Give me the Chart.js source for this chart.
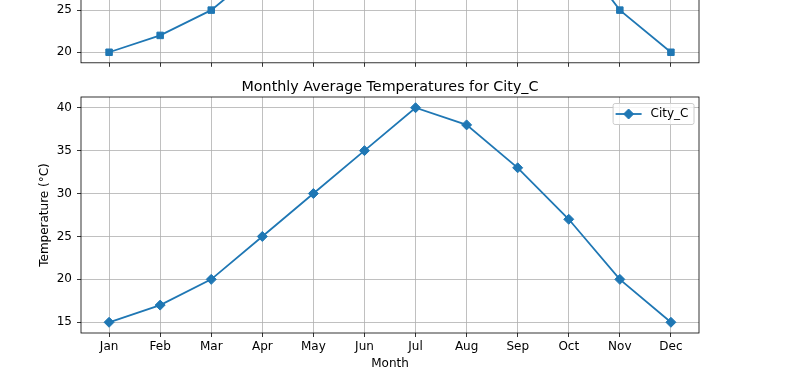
<!DOCTYPE html>
<html><head><meta charset="utf-8">
<script src="https://cdn.jsdelivr.net/npm/chart.js@4"></script>
<style>
html,body{margin:0;padding:0;background:#fff;overflow:hidden;width:800px;height:371px;}
#wrapB{position:absolute;left:0;top:-195px;width:800px;height:270px;}
#wrapC{position:absolute;left:0;top:0;width:800px;height:371px;}
canvas{display:block;}
</style></head><body>
<div id="wrapB"><canvas id="cB" width="800" height="270"></canvas></div>
<div id="wrapC"><canvas id="cC" width="800" height="371"></canvas></div>
<script>
const months = ['Jan','Feb','Mar','Apr','May','Jun','Jul','Aug','Sep','Oct','Nov','Dec'];
const cityB = [20,22,25,30,35,40,45,43,38,33,25,20];
const cityC = [15,17,20,25,30,35,40,38,33,27,20,15];
const yTicksB = [20,25,30,35,40,45];
const yTicksC = [15,20,25,30,35,40];
const labelB = 'City_B';
const labelC = 'City_C';
const titleB = 'Monthly Average Temperatures for City_B';
const titleC = 'Monthly Average Temperatures for City_C';
const xTitle = 'Month';
const yTitle = 'Temperature (°C)';

const FONT = "'DejaVu Sans', sans-serif";
const TICK_PX = 12, TITLE_PX = 14.3;
const BLUE = '#1f77b4';

function pad5(vals){const mn=Math.min(...vals),mx=Math.max(...vals),m=(mx-mn)*0.05;return [mn-m,mx+m];}

function marker(ctx, style, x, y, r){
  ctx.beginPath();
  if(style==='rectRot'){ctx.moveTo(x-r,y);ctx.lineTo(x,y-r);ctx.lineTo(x+r,y);ctx.lineTo(x,y+r);ctx.closePath();}
  else {const s=Math.SQRT1_2*r;ctx.rect(x-s,y-s,2*s,2*s);}
  ctx.fillStyle=BLUE;ctx.strokeStyle=BLUE;ctx.lineWidth=1;ctx.fill();ctx.stroke();
}

const framePlugin = {
  id:'frame',
  afterDatasetsDraw(chart, args, opts){
    const {ctx, chartArea:a} = chart;
    ctx.save();
    ctx.strokeStyle='#000';ctx.lineWidth=0.8;
    ctx.strokeRect(a.left,a.top,a.right-a.left,a.bottom-a.top);
    ctx.fillStyle='#000';ctx.font=TITLE_PX+'px '+FONT;ctx.textAlign='center';ctx.textBaseline='alphabetic';
    ctx.fillText(opts.title,(a.left+a.right)/2,a.top-6);
    // legend
    ctx.font=TICK_PX+'px '+FONT;
    const w=ctx.measureText(opts.label).width;
    const bw=38+w+5, bh=21;
    const bx=a.right-5.5-bw, by=a.top+6;
    ctx.beginPath();
    if(ctx.roundRect) ctx.roundRect(bx+0.5,by+0.5,bw,bh,2); else ctx.rect(bx+0.5,by+0.5,bw,bh);
    ctx.fillStyle='rgba(255,255,255,0.8)';ctx.fill();
    ctx.strokeStyle='#cccccc';ctx.lineWidth=1;ctx.stroke();
    const cy=by+bh/2+0.5;
    ctx.beginPath();ctx.moveTo(bx+3,cy);ctx.lineTo(bx+29,cy);ctx.strokeStyle=BLUE;ctx.lineWidth=1.8;ctx.stroke();
    marker(ctx,opts.style,bx+16,cy,opts.radius);
    ctx.fillStyle='#000';ctx.textAlign='left';ctx.textBaseline='middle';
    ctx.fillText(opts.label,bx+38,cy);
    ctx.restore();
  }
};

function build(id, values, label, style, radius, yTicks, title, top, bottom, H, showX){
  const [ymin,ymax]=pad5(values);
  const font={family:FONT,size:TICK_PX};
  return new Chart(document.getElementById(id),{
    type:'line',
    data:{datasets:[{label, data:values.map((v,i)=>({x:i,y:v})),
      borderColor:BLUE,backgroundColor:BLUE,borderWidth:1.8,
      pointStyle:style,pointRadius:radius,pointHoverRadius:radius,pointBorderWidth:1,
      pointBorderColor:BLUE,pointBackgroundColor:BLUE,tension:0,fill:false,clip:false}]},
    options:{
      responsive:false,animation:false,events:[],
      layout:{padding:{left:0,right:101,top:top,bottom:0}},
      plugins:{legend:{display:false},tooltip:{enabled:false},title:{display:false},
        frame:{title,label,style,radius}},
      scales:{
        x:{type:'linear',min:-0.55,max:11.55,
          afterBuildTicks:s=>{s.ticks=months.map((m,i)=>({value:i}));},
          afterFit:s=>{s.height=H-bottom;},
          ticks:{display:showX,callback:v=>months[v],font,color:'#000',padding:3,maxRotation:0,autoSkip:false},
          grid:{color:'#b0b0b0',lineWidth:0.8,tickColor:'#000',tickLength:4,tickWidth:0.8},
          border:{display:false},
          title:{display:showX,text:xTitle,font,color:'#000',padding:{top:0,bottom:0}}},
        y:{type:'linear',min:ymin,max:ymax,
          afterBuildTicks:s=>{s.ticks=yTicks.map(v=>({value:v}));},
          afterFit:s=>{s.width=81;},
          ticks:{font,color:'#000',padding:5},
          grid:{color:'#b0b0b0',lineWidth:0.8,tickColor:'#000',tickLength:4,tickWidth:0.8},
          border:{display:false},
          title:{display:true,text:yTitle,font,color:'#000',padding:{top:38,bottom:0}}}
      }
    },
    plugins:[framePlugin]
  });
}

build('cB',cityB,labelB,'rect',4.6,yTicksB,titleB,26,262,270,false);
build('cC',cityC,labelC,'rectRot',5,yTicksC,titleC,97,333,371,true);
</script>
</body></html>
